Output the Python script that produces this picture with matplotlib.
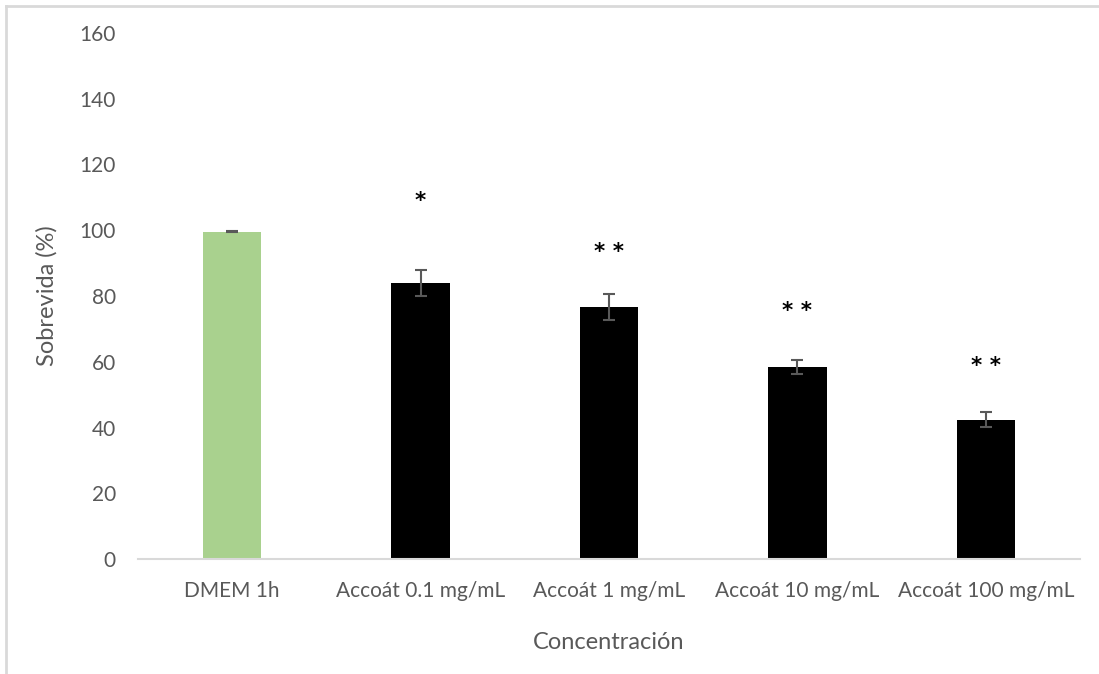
import matplotlib.pyplot as plt
from matplotlib.lines import Line2D

# data
labels = ['DMEM 1h', 'Accoát 0.1 mg/mL', 'Accoát 1 mg/mL', 'Accoát 10 mg/mL', 'Accoát 100 mg/mL']
survival = [99.6, 84.0, 76.7, 58.5, 42.4]
errors = [0.2, 4.0, 4.0, 2.1, 2.2]
stars = ['', '*', '* *', '* *', '* *']
star_y = [0, 108.8, 93.3, 75.3, 58.8]
colors = ['#a9d18e', 'black', 'black', 'black', 'black']

plt.rcParams['font.family'] = ['Lato', 'DejaVu Sans']
grey = '#595959'

fig = plt.figure(figsize=(10.99, 6.74), dpi=100)
ax = fig.add_axes([138 / 1099, 1 - 559 / 674, 942 / 1099, 526 / 674])

x = range(len(labels))
ax.bar(x, survival, width=0.31, color=colors, zorder=2)
ax.errorbar(x, survival, yerr=errors, fmt='none', ecolor=grey,
            elinewidth=1.5, capsize=4, capthick=1.5, zorder=3)

for i, s in enumerate(stars):
    if s:
        ax.text(i, star_y[i], s, ha='center', va='center', fontsize=15.5,
                fontweight='bold', color='black', family='DejaVu Sans')

ax.set_xlim(-0.5, len(labels) - 0.5)
ax.set_ylim(0, 160)
ax.set_yticks(range(0, 161, 20))
ax.set_xticks(list(x))
ax.set_xticklabels(labels)
ax.tick_params(axis='both', length=0, labelsize=15, colors=grey)
ax.tick_params(axis='y', pad=16)
ax.tick_params(axis='x', pad=16)

for side in ['top', 'right', 'left']:
    ax.spines[side].set_visible(False)
ax.spines['bottom'].set_color('#d9d9d9')
ax.spines['bottom'].set_linewidth(1.5)

ax.set_xlabel('Concentración', fontsize=17, color=grey, labelpad=22)
ax.set_ylabel('Sobrevida (%)', fontsize=17, color=grey, labelpad=16)

# outer chart border (top and left visible)
fig.add_artist(Line2D([6 / 1099, 1], [1 - 6 / 674, 1 - 6 / 674],
                      transform=fig.transFigure, color='#d9d9d9', lw=2))
fig.add_artist(Line2D([6 / 1099, 6 / 1099], [0, 1 - 6 / 674],
                      transform=fig.transFigure, color='#d9d9d9', lw=2))

plt.savefig('out.png', dpi=100)
